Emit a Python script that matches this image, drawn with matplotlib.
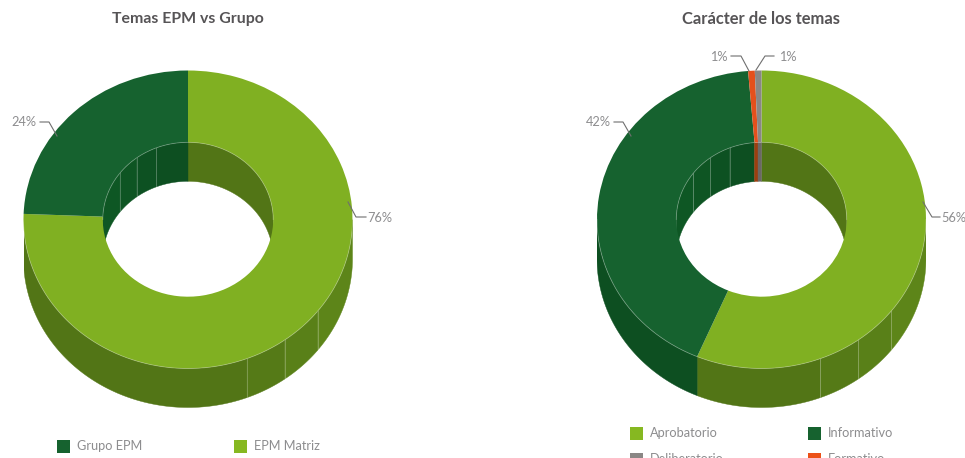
import numpy as np
import matplotlib
matplotlib.use("Agg")
import matplotlib.pyplot as plt
from matplotlib.patches import Polygon, Rectangle

# Values (the labels are rounded versions of these)
grupoNames = ["EPM Matriz", "Grupo EPM"]
grupoValues = [75.6, 24.4]
grupoLabels = ["76%", "24%"]

caracterNames = ["Aprobatorio", "Informativo", "Formativo", "Deliberatorio"]
caracterValues = [56.4, 42.3, 0.65, 0.65]
caracterLabels = ["56%", "42%", "1%", "1%"]

faceColors = {"EPM Matriz": "#80b022", "Aprobatorio": "#80b022",
              "Grupo EPM": "#16622f", "Informativo": "#16622f",
              "Formativo": "#e4501c", "Deliberatorio": "#8a8785"}
wallColors = {"EPM Matriz": "#527516", "Aprobatorio": "#527516",
              "Grupo EPM": "#0d4f21", "Informativo": "#0d4f21",
              "Formativo": "#9c3f10", "Deliberatorio": "#6c6866"}

WIDTH, HEIGHT = 965, 458
RX, RY = 164.5, 149.0
HOLE = 0.518
DEPTH = 39.0 / RY
CENTER_Y = 219.5

# Angles are clockwise from the top. Thin lines split the walls at these angles
OUTER_BREAKS = [128, 144, 159]
INNER_BREAKS = [307, 323, 338]
OUTER_SHADES = [1.14, 1.09, 1.04, 1.0]
INNER_SHADES = [1.10, 1.07, 1.03, 1.0]

GREY_TEXT = "#8d8d8f"
LINE_GREY = "#6f6f6f"
plt.rcParams["font.family"] = ["Lato", "DejaVu Sans"]


def shade(color, factor):
    rgb = np.array(matplotlib.colors.to_rgb(color)) * factor
    return tuple(np.clip(rgb, 0, 1))


def arc(a0, a1, radius):
    t = np.radians(np.linspace(a0, a1, 80))
    return radius * np.sin(t), radius * np.cos(t)


def band(ax, a0, a1, radius, color):
    x, y = arc(a0, a1, radius)
    pts = np.r_[np.c_[x, y], np.c_[x[::-1], y[::-1] - DEPTH]]
    ax.add_patch(Polygon(pts, closed=True, fc=color, ec=color, lw=0.3, zorder=1))


def split_band(ax, a0, a1, low, high, radius, breaks, shades, color):
    # keep the visible part of a slice, then cut it at the break angles
    edges = [low] + breaks + [high]
    for i, f in enumerate(shades):
        p0, p1 = max(a0, edges[i]), min(a1, edges[i + 1])
        if p1 > p0:
            band(ax, p0, p1, radius, shade(color, f))


def draw_donut(left_px, names, values):
    left = left_px / WIDTH
    bottom = 1 - (CENTER_Y + RY * 1.5) / HEIGHT
    ax = plt.gcf().add_axes([left, bottom, 2 * RX / WIDTH, 3 * RY / HEIGHT])

    colors = [faceColors[n] for n in names]
    wedges, _ = ax.pie(values, colors=colors, startangle=90, counterclock=False,
                       radius=1, wedgeprops=dict(width=1 - HOLE, lw=0))
    for w in wedges:
        w.set_zorder(3)

    edges = np.r_[0, np.cumsum(values)] / np.sum(values) * 360
    for i, name in enumerate(names):
        a0, a1 = edges[i], edges[i + 1]
        split_band(ax, a0, a1, 90, 270, 1, OUTER_BREAKS, OUTER_SHADES, wallColors[name])
        split_band(ax, a0, a1, 270, 360, HOLE, INNER_BREAKS, INNER_SHADES, wallColors[name])
        if a0 < 90:
            band(ax, a0, min(a1, 90), HOLE, wallColors[name])

    # light lines on the wall joints and the rim
    for a, radius in [(a, 1) for a in OUTER_BREAKS] + [(a, HOLE) for a in INNER_BREAKS]:
        x, y = arc(a, a, radius)
        ax.plot([x[0], x[0]], [y[0], y[0] - DEPTH], color="white", alpha=0.25, lw=0.7, zorder=2)
    x, y = arc(90, 270, 1)
    ax.plot(x, y, color="white", alpha=0.3, lw=0.6, zorder=4)
    x, y = arc(-90, 90, HOLE)
    ax.plot(x, y, color="white", alpha=0.3, lw=0.6, zorder=4)

    ax.set_aspect("auto")
    ax.set_xlim(-1, 1)
    ax.set_ylim(-1.5, 1.5)
    ax.axis("off")
    ax.patch.set_alpha(0)
    return ax


fig = plt.figure(figsize=(WIDTH / 100, HEIGHT / 100), dpi=100)
draw_donut(23.5, grupoNames, grupoValues)
draw_donut(597, caracterNames, caracterValues)

# Overlay in pixels for titles, connectors and legends
page = fig.add_axes([0, 0, 1, 1], zorder=10)
page.set_xlim(0, WIDTH)
page.set_ylim(HEIGHT, 0)
page.axis("off")
page.patch.set_alpha(0)

page.text(188, 18.5, "Temas EPM vs Grupo", ha="center", va="center",
          fontsize=11.4, fontweight="bold", color="#565456")
page.text(761.5, 18.5, "Carácter de los temas", ha="center", va="center",
          fontsize=11.9, fontweight="bold", color="#565456")

connectors = [
    ([40, 49, 57], [122, 122, 136], grupoLabels[1], 36, "right", 122.5),
    ([348, 356, 366], [202, 217, 217], grupoLabels[0], 367, "left", 217.5),
    ([614, 623, 631], [122, 122, 136], caracterLabels[1], 611, "right", 122.5),
    ([923, 932, 940], [202, 217, 217], caracterLabels[0], 941, "left", 217.5),
    ([731, 741, 749], [56, 56, 71], caracterLabels[2], 728, "right", 57),
    ([774, 765, 756], [56, 56, 70], caracterLabels[3], 779, "left", 57),
]
for xs, ys, label, tx, ha, ty in connectors:
    page.plot(xs, ys, color=LINE_GREY, lw=0.8, zorder=5)
    page.text(tx, ty, label, ha=ha, va="center", fontsize=9.2, color=GREY_TEXT)

legend_items = [
    (57, 440, "Grupo EPM", "#16622f"),
    (234, 440, "EPM Matriz", "#86b821"),
    (630, 427, "Aprobatorio", "#86b821"),
    (808, 427, "Informativo", "#16622f"),
    (630, 453, "Deliberatorio", "#8a8785"),
    (808, 453, "Formativo", "#ec5118"),
]
for x, y, name, color in legend_items:
    page.add_patch(Rectangle((x, y), 13, 13, fc=color, ec="none"))
    page.text(x + 20, y + 6, name, ha="left", va="center", fontsize=9.2, color=GREY_TEXT)

fig.savefig("out.png", dpi=100)
